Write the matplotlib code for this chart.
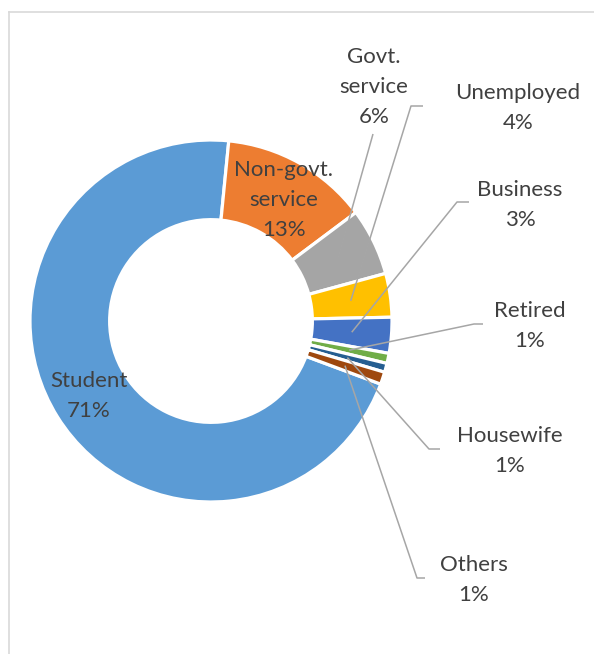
import matplotlib
matplotlib.use("Agg")
import matplotlib.pyplot as plt
import numpy as np
from matplotlib.lines import Line2D

categories = ["Student", "Non-govt.\nservice", "Govt.\nservice", "Unemployed",
              "Business", "Retired", "Housewife", "Others"]
shares = [70.9, 13.2, 6.0, 3.9, 3.2, 0.9, 0.8, 1.1]
colors = ["#5B9BD5", "#ED7D31", "#A5A5A5", "#FFC000",
          "#4472C4", "#70AD47", "#255E91", "#9E480E"]

# layout (pixels in the 594x654 canvas)
W, H = 594, 654
CX, CY, R = 211, 321, 181
TEXT = "#404040"
LEADER = "#A6A6A6"


def px(x, y):
    return (x - CX) / R, (CY - y) / R


fig = plt.figure(figsize=(W / 100, H / 100), dpi=100)
ax = fig.add_axes([0, 0, 1, 1])

wedges, _ = ax.pie(shares, colors=colors, startangle=90 - 110.4,
                   counterclock=False, radius=1.0, center=(0, 0),
                   wedgeprops=dict(width=0.44, edgecolor="white", linewidth=2.3),
                   frame=True)
ax.set_xlim(-CX / R, (W - CX) / R)
ax.set_ylim(-(H - CY) / R, CY / R)
ax.set_aspect("auto")
ax.axis("off")

labels = [f"{c}\n{round(s)}%" for c, s in zip(categories, shares)]

# label centre (px), elbow points (px) or None for inside labels
label_pos = [(89, 396), (284, 200), (374, 87), (518, 108),
             (520, 205), (530, 326), (510, 451), (474, 580)]
elbows = [None, None,
          [(373, 134)],
          [(423, 106), (411, 106)],
          [(469, 202), (457, 202)],
          [(483, 324), (474, 324)],
          [(440, 449), (429, 449)],
          [(425, 578), (417, 578)]]

ring_mid = 1 - 0.44 / 2
for w, lab, pos, elb in zip(wedges, labels, label_pos, elbows):
    tx, ty = px(*pos)
    ax.text(tx, ty, lab, ha="center", va="center", fontsize=16,
            family="Lato", color=TEXT, linespacing=1.62)
    if elb is None:
        continue
    mid = np.deg2rad((w.theta1 + w.theta2) / 2)
    pts = [px(*p) for p in elb] + [(ring_mid * np.cos(mid), ring_mid * np.sin(mid))]
    xs, ys = zip(*pts)
    ax.plot(xs, ys, color=LEADER, lw=1.1, solid_capstyle="butt")

# chart area border (cropped on the right and bottom)
bx, by = 9 / W, 1 - 12 / H
fig.add_artist(Line2D([bx, bx], [0, by], color="#D9D9D9", lw=1.2))
fig.add_artist(Line2D([bx, 1], [by, by], color="#D9D9D9", lw=1.2))

fig.savefig("out.png", dpi=100, facecolor="white")
